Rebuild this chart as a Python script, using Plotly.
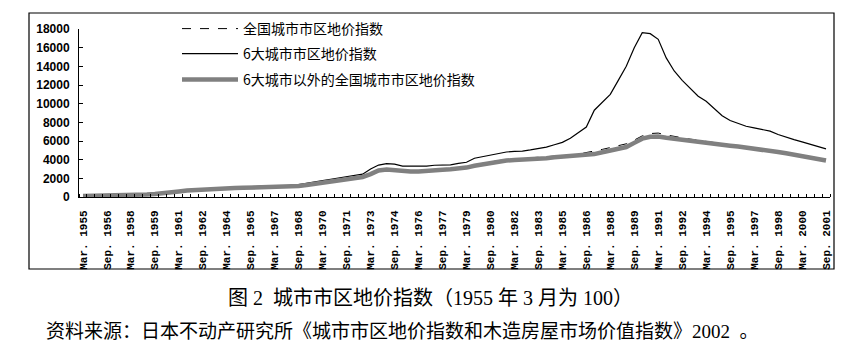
import plotly.graph_objects as go

# ---------------- data ----------------
periods = [f"{m}. {y}" for y in range(1955, 2002) for m in ("Mar", "Sep")]
tick_labels = periods[::3]

national = [100, 110, 120, 130, 140, 150, 165, 200, 260, 310,
            370, 450, 600, 700, 770, 820, 860, 900, 940, 990,
            1020, 1040, 1060, 1070, 1080, 1100, 1140, 1220, 1320, 1450,
            1560, 1700, 1830, 1940, 2050, 2230, 2550, 2950, 3050, 2980,
            2850, 2820, 2820, 2850, 2940, 3000, 3060, 3130, 3230, 3450,
            3620, 3780, 3900, 4020, 4080, 4120, 4150, 4180, 4280, 4380,
            4440, 4500, 4600, 4750, 4900, 5100, 5300, 5480, 5700, 6100,
            6550, 6800, 6850, 6650, 6480, 6350, 6200, 6080, 5960, 5850,
            5740, 5620, 5500, 5390, 5270, 5140, 5020, 4890, 4750, 4600,
            4450, 4290, 4130, 3950]

six_cities = [100, 110, 120, 130, 140, 150, 160, 180, 220, 270,
              330, 420, 560, 650, 740, 800, 860, 900, 950, 1050,
              1100, 1150, 1150, 1160, 1170, 1200, 1250, 1330, 1450, 1600,
              1770, 1900, 2030, 2150, 2280, 2450, 3000, 3420, 3570, 3520,
              3300, 3280, 3280, 3300, 3400, 3420, 3450, 3600, 3720, 4150,
              4300, 4460, 4650, 4820, 4880, 4920, 5050, 5200, 5350, 5600,
              5850, 6300, 6900, 7500, 9300, 10100, 11000, 12500, 14000, 16000,
              17600, 17500, 16900, 14900, 13500, 12500, 11600, 10800, 10250, 9500,
              8700, 8200, 7850, 7580, 7400, 7250, 7060, 6700, 6400, 6150,
              5900, 5650, 5400, 5150]

excl_six = [100, 110, 120, 130, 140, 150, 160, 200, 280, 330,
            380, 440, 600, 700, 760, 800, 840, 880, 920, 960,
            980, 1000, 1020, 1030, 1040, 1060, 1100, 1180, 1280, 1400,
            1500, 1650, 1780, 1880, 1980, 2150, 2450, 2850, 2950, 2850,
            2750, 2720, 2720, 2750, 2850, 2920, 2980, 3050, 3150, 3350,
            3500, 3650, 3780, 3900, 3970, 4000, 4020, 4050, 4150, 4250,
            4300, 4340, 4400, 4480, 4600, 4800, 4980, 5150, 5350, 5800,
            6250, 6450, 6480, 6350, 6230, 6100, 5980, 5880, 5780, 5700,
            5600, 5500, 5400, 5300, 5180, 5060, 4950, 4820, 4680, 4540,
            4400, 4250, 4100, 3920]

y_ticks = [0, 2000, 4000, 6000, 8000, 10000, 12000, 14000, 16000, 18000]
y_tick_labels = [str(v) for v in y_ticks]

names = ["全国城市市区地价指数", "6大城市市区地价指数", "6大城市以外的全国城市市区地价指数"]
title_text = "图 2\u00a0\u00a0城市市区地价指数（1955\u00a0年\u00a03\u00a0月为\u00a0100）"
source_text = "资料来源：日本不动产研究所《城市市区地价指数和木造房屋市场价值指数》2002\u00a0\u00a0。"

# ---------------- layout geometry ----------------
W, H = 847, 352
L, R, T, B = 79, 17, 29, 155
PW, PH = W - L - R, H - T - B


def px2x(px):
    return (px - L) / PW


def py2y(py):
    return (H - B - py) / PH


idx = list(range(len(periods)))

fig = go.Figure()
fig.add_trace(go.Scatter(x=idx, y=national, mode="lines", name=names[0],
                         line=dict(color="black", width=1, dash="dash"),
                         legend="legend"))
fig.add_trace(go.Scatter(x=idx, y=six_cities, mode="lines", name=names[1],
                         line=dict(color="black", width=1.2),
                         legend="legend2"))
fig.add_trace(go.Scatter(x=idx, y=excl_six, mode="lines", name=names[2],
                         line=dict(color="#808080", width=4.5),
                         legend="legend3"))

leg_font = dict(family="Noto Sans CJK SC", size=14, color="black")
leg_common = dict(xanchor="left", yanchor="middle", font=leg_font,
                  bgcolor="rgba(0,0,0,0)", itemwidth=56, borderwidth=0)

fig.update_layout(
    width=W, height=H,
    margin=dict(l=L, r=R, t=T, b=B, pad=0),
    paper_bgcolor="white", plot_bgcolor="white",
    showlegend=True,
    legend=dict(x=px2x(177), y=py2y(29), **leg_common),
    legend2=dict(x=px2x(177), y=py2y(54), **leg_common),
    legend3=dict(x=px2x(177), y=py2y(80), **leg_common),
    xaxis=dict(
        range=[-0.5, len(periods) - 0.5],
        tickmode="array", tickvals=idx[::3], ticktext=tick_labels,
        tickangle=-90, ticks="", ticklabelstandoff=8,
        tickfont=dict(family="Liberation Mono", size=11, color="black", weight="bold"),
        showline=True, linecolor="black", linewidth=1,
        showgrid=False, zeroline=False, automargin=False,
        minor=dict(tickmode="linear", tick0=-0.5, dtick=1, ticks="inside",
                   ticklen=3, tickcolor="black", tickwidth=1, showgrid=False),
    ),
    yaxis=dict(
        range=[0, 18000], tickmode="array", tickvals=y_ticks, ticktext=y_tick_labels,
        ticks="inside", ticklen=4, tickcolor="black", tickwidth=1,
        ticklabelstandoff=6,
        tickfont=dict(family="Liberation Sans", size=12, color="black", weight="bold"),
        showline=True, linecolor="black", linewidth=1,
        showgrid=False, zeroline=False, automargin=False,
    ),
    shapes=[dict(type="rect", xref="paper", yref="paper",
                 x0=px2x(29), x1=px2x(834), y0=py2y(269), y1=py2y(13),
                 line=dict(color="black", width=1.2), fillcolor="rgba(0,0,0,0)",
                 layer="below")],
    annotations=[
        dict(text=title_text, xref="paper", yref="paper",
             x=px2x(430), y=py2y(298), xanchor="center", yanchor="middle",
             showarrow=False,
             font=dict(family="Liberation Serif, Noto Sans CJK SC", size=20, color="black")),
        dict(text=source_text, xref="paper", yref="paper",
             x=px2x(44), y=py2y(331), xanchor="left", yanchor="middle",
             showarrow=False,
             font=dict(family="Liberation Serif, Noto Sans CJK SC", size=19, color="black")),
    ],
)

fig.write_html("out.html")
